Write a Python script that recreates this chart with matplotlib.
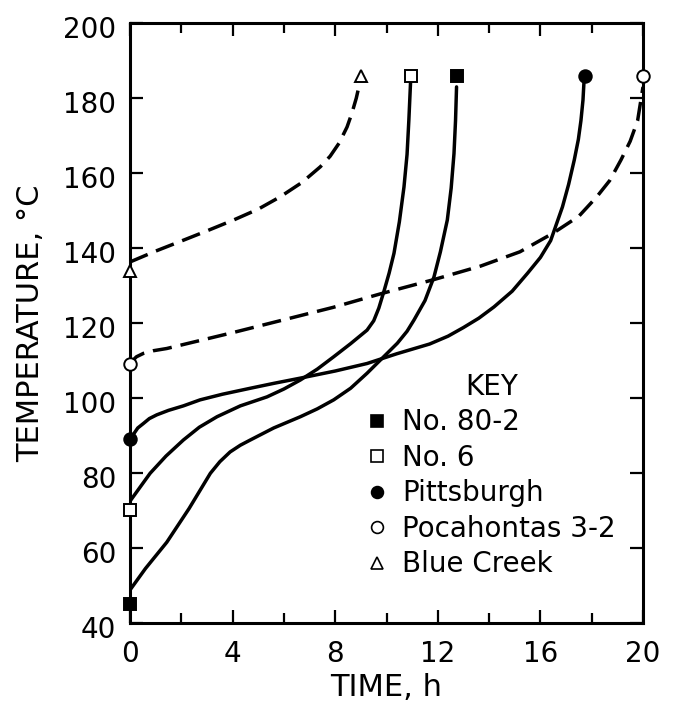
import numpy as np
import matplotlib.pyplot as plt
from matplotlib.lines import Line2D
from matplotlib.transforms import ScaledTranslation

# traced curves (time h, temperature C)
blue_t = [0, 1.0, 2.08, 3.0, 4.04, 5.0, 5.86, 6.7, 7.42, 7.8, 8.15, 8.46, 8.65, 8.82, 8.98]
blue_T = [136.3, 139.2, 142.1, 144.6, 147.5, 150.4, 153.7, 157.5, 161.7, 164.5, 168.0, 172.3, 176.0, 180.0, 184.8]

poca_t = [0, 0.1, 0.25, 0.52, 0.9, 1.43, 4.04, 7.93, 9.77, 11.85, 13.67, 15.2, 16.5, 17.5, 18.2, 18.7, 19.14, 19.5, 19.79, 20.0]
poca_T = [108.8, 110.0, 111.0, 111.9, 112.6, 113.2, 117.5, 124.2, 127.8, 131.6, 135.2, 139.0, 144.0, 148.5, 153.7, 158.0, 163.5, 168.5, 174.0, 183.0]

pitt_t = [0, 0.15, 0.3, 0.52, 0.75, 1.04, 1.5, 2.08, 2.73, 3.6, 4.69, 5.6, 6.64, 8.0, 9.24, 10.4, 11.68, 12.4, 13.0, 13.6, 14.19, 14.9, 15.5, 16.0, 16.4, 16.86, 17.1, 17.32, 17.48, 17.58, 17.66, 17.7]
pitt_T = [88.8, 90.5, 92.0, 93.2, 94.5, 95.5, 96.7, 97.9, 99.5, 101.0, 102.6, 103.9, 105.3, 107.2, 109.2, 111.8, 114.4, 116.5, 118.8, 121.3, 124.3, 128.5, 133.3, 137.5, 142.0, 151.0, 157.0, 163.5, 169.0, 174.0, 179.5, 184.5]

no6_t = [0, 0.4, 0.78, 1.4, 2.08, 2.7, 3.39, 4.3, 5.34, 6.0, 6.64, 7.3, 7.94, 8.6, 9.24, 9.5, 9.7, 9.9, 10.1, 10.29, 10.5, 10.68, 10.8, 10.87, 10.94]
no6_T = [72.5, 76.3, 79.9, 84.5, 88.8, 92.2, 95.0, 97.9, 100.3, 102.4, 104.8, 107.7, 111.0, 114.5, 118.1, 120.6, 124.0, 128.5, 133.3, 138.6, 147.0, 156.3, 165.0, 174.1, 184.8]

n80_t = [0, 0.6, 1.43, 2.3, 3.13, 3.5, 3.9, 4.3, 4.69, 5.6, 6.64, 7.3, 7.94, 8.6, 9.24, 9.8, 10.42, 10.8, 11.07, 11.5, 11.85, 12.1, 12.37, 12.52, 12.63, 12.69, 12.73]
n80_T = [48.8, 54.5, 61.5, 70.5, 79.9, 83.0, 85.6, 87.4, 88.8, 92.0, 95.0, 97.1, 99.5, 102.6, 106.6, 110.4, 114.6, 117.8, 120.8, 126.0, 132.3, 139.0, 147.5, 156.0, 165.2, 174.0, 183.0]

# end points (markers)
names = ['No. 80-2', 'No. 6', 'Pittsburgh', 'Pocahontas 3-2', 'Blue Creek']
start_T = [45, 70, 89, 109, 134]
end_t = [12.75, 10.95, 17.75, 20.0, 9.0]
end_T = [186, 186, 186, 186, 186]
markers = ['s', 's', 'o', 'o', '^']
filled = [True, False, True, False, False]

fs = 20
fig = plt.figure(figsize=(6.74, 7.03), dpi=100)
ax = fig.add_axes([0.193, 0.114, 0.761, 0.853])

lw = 2.5
ax.plot(n80_t, n80_T, color='k', lw=lw, solid_capstyle='round', solid_joinstyle='round')
ax.plot(no6_t, no6_T, color='k', lw=lw, solid_capstyle='round', solid_joinstyle='round')
ax.plot(pitt_t, pitt_T, color='k', lw=lw, solid_capstyle='round', solid_joinstyle='round')
ax.plot(poca_t, poca_T, color='k', lw=lw, dashes=(5.5, 2.6))
ax.plot(blue_t, blue_T, color='k', lw=lw, dashes=(5.5, 2.6))

handles = []
for i in range(5):
    fc = 'k' if filled[i] else 'white'
    ax.plot([0, end_t[i]], [start_T[i], end_T[i]], ls='none', marker=markers[i],
            ms=9, mfc=fc, mec='k', mew=1.4, clip_on=False, zorder=5)
    handles.append(Line2D([], [], ls='none', marker=markers[i], ms=8.5, mfc=fc,
                          mec='k', mew=1.2))

ax.set_xlim(0, 20)
ax.set_ylim(40, 200)
ax.set_xticks([0, 4, 8, 12, 16, 20])
ax.set_xticks(np.arange(0, 21, 2), minor=True)
ax.set_yticks(np.arange(40, 201, 20))
ax.tick_params(which='both', direction='in', top=True, right=True, width=1.6,
               labelsize=fs)
ax.tick_params(axis='y', pad=10)
ax.tick_params(axis='x', pad=12)
ax.tick_params(which='major', length=9.5)
ax.tick_params(which='minor', length=7.5)
for s in ax.spines.values():
    s.set_linewidth(2.2)

# y tick labels sit a little below their ticks in the original
shift = ScaledTranslation(0, -0.04, fig.dpi_scale_trans)
for lab in ax.get_yticklabels():
    lab.set_transform(lab.get_transform() + shift)

ax.set_xlabel('TIME, h', fontsize=22, labelpad=4)
ax.set_ylabel('TEMPERATURE, °C', fontsize=22, labelpad=13)

leg = ax.legend(handles, names, title='KEY', frameon=False, fontsize=fs,
                title_fontsize=fs, loc='upper left', bbox_to_anchor=(0.465, 0.417),
                handlelength=0.6, handletextpad=0.6, labelspacing=0.27,
                borderaxespad=0, borderpad=0)

fig.savefig('out.png', dpi=100)
